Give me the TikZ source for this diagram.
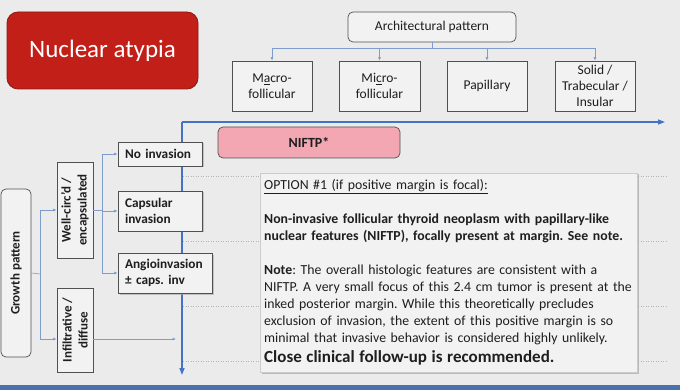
\documentclass[tikz,border=0pt]{standalone}
\usepackage{fontspec}
\setmainfont{Carlito}
\usetikzlibrary{arrows.meta,shadows,calc}
\definecolor{bgc}{HTML}{EBEBEB}
\definecolor{boxfill}{HTML}{F2F2F2}
\definecolor{boxline}{HTML}{505050}
\definecolor{redbox}{HTML}{C21F18}
\definecolor{redline}{HTML}{8E1812}
\definecolor{axisblue}{HTML}{4472C4}
\definecolor{thinblue}{HTML}{7F9CCF}
\definecolor{pinkfill}{HTML}{F2A7B2}
\definecolor{dotgray}{HTML}{B5B5B5}
\definecolor{barblue}{HTML}{4A70AE}
\definecolor{txt}{HTML}{1E1E1E}
\frenchspacing
\begin{document}
\begin{tikzpicture}[x=1pt,y=-1pt,
  plainbox/.style={draw=boxline, fill=boxfill, line width=0.7pt, inner sep=0pt,
    align=center, text=txt, font=\fontsize{13.5}{16}\selectfont},
  roundbox/.style={plainbox, rounded corners=5pt},
  vbox/.style={plainbox, rotate=90, font=\bfseries\fontsize{13}{16}\selectfont},
  leftbox/.style={draw=boxline, fill=boxfill, line width=0.8pt, inner xsep=7pt, inner ysep=0pt,
    text width=#1, align=left, text=txt, font=\bfseries\fontsize{13.3}{16}\selectfont,
    drop shadow={shadow xshift=1.5pt, shadow yshift=-1.5pt, fill=black!35, opacity=0.6}},
  thin/.style={draw=thinblue, line width=0.6pt},
  thinarrow/.style={thin, -{Latex[length=3.5pt,width=3pt]}},
  axis/.style={draw=axisblue, line width=1.3pt, -{Triangle[length=7pt,width=5pt]}},
  dotline/.style={draw=dotgray, line width=0.5pt, dotted}
]
\useasboundingbox (0,0) rectangle (680,390);
\fill[bgc] (0,0) rectangle (680,390);
\fill[barblue] (0,385) rectangle (680,390);

% dotted guide lines
\foreach \yy in {176,241,306,361} \draw[dotline] (183,\yy) -- (667,\yy);

% title
\node[draw=redline, fill=redbox, line width=0.8pt, rounded corners=11pt,
  minimum width=191pt, minimum height=77pt, text=white,
  font=\fontsize{25}{30}\selectfont] (atypia) at (102.5,50.5) {Nuclear atypia};

% architectural pattern
\node[roundbox, minimum width=168pt, minimum height=30pt] (arch) at (432,27) {Architectural pattern};
\node[plainbox, minimum width=80pt, minimum height=50pt] (macro) at (272,86) {M\underline{a}cro-\\follicular};
\node[plainbox, minimum width=81pt, minimum height=50pt] (micro) at (379.5,86) {Mi\underline{c}ro-\\follicular};
\node[plainbox, minimum width=80pt, minimum height=50pt] (pap) at (487,86) {Papillary};
\node[plainbox, minimum width=80pt, minimum height=50pt] (solid) at (595,86) {Solid /\\Trabecular /\\Insular};

\coordinate (archsplit) at (432,48);
\draw[thin] (arch.south) -- (archsplit);
\draw[thin] (archsplit -| macro.north) -- (archsplit -| solid.north);
\foreach \n in {macro,micro,pap,solid}
  \draw[thinarrow] (archsplit -| \n.north) -- (\n.north);

% axes
\coordinate (origin) at (182,122);
\coordinate (axisR) at (665,122);
\coordinate (axisB) at (182,375);
\draw[axis] (origin) -- (axisR);
\draw[axis] (origin) -- (axisB);

% NIFTP
\node[draw=boxline, fill=pinkfill, line width=0.7pt, rounded corners=5pt,
  minimum width=182pt, minimum height=31pt, text=txt,
  font=\bfseries\fontsize{14}{16}\selectfont] (niftp) at (309,142.5) {NIFTP*};

% growth pattern side
\node[roundbox, rotate=90, font=\bfseries\fontsize{13}{16}\selectfont,
  minimum width=168pt, minimum height=30pt] (growth) at (16,273) {Growth pattern};
\node[vbox, minimum width=96pt, minimum height=36pt] (well) at (75,210) {Well-circ'd /\\encapsulated};
\node[vbox, minimum width=84pt, minimum height=36pt] (infil) at (75,330) {Infiltrative /\\diffuse};

\node[leftbox=70pt, minimum height=24pt] (noinv) at (160,154) {No invasion};
\node[leftbox=70pt, minimum height=40pt] (cap) at (160,211) {Capsular\\invasion};
\node[leftbox=80pt, minimum height=40pt] (angio) at (165,273) {Angioinvasion\\± caps. inv};

% connectors (rotated nodes: south = right side, north = left side)
\coordinate (gx) at (40,274);
\coordinate (gbot) at (40,339);
\draw[thin] (growth.south) -- (gx);
\draw[thin] (gx |- well.center) -- (gbot);
\draw[thinarrow] (gx |- well.center) -- (well.north);
\draw[thinarrow] (gbot) -- (gbot -| infil.north);

\coordinate (wx) at (102,210);
\draw[thin] (well.south) -- (wx);
\draw[thin] (wx |- noinv.west) -- (wx |- angio.west);
\draw[thinarrow] (wx |- noinv.west) -- (noinv.west);
\draw[thinarrow] (wx |- cap.west) -- (cap.west);
\draw[thinarrow] (wx |- angio.west) -- (angio.west);

\coordinate (infend) at (176,339);
\draw[thinarrow] (gbot -| infil.south) -- (infend);

% note box
\node[draw=black!20, fill=boxfill, line width=0.5pt, minimum width=377pt, minimum height=199pt,
  drop shadow={shadow xshift=1.5pt, shadow yshift=-1.5pt, fill=black!40, opacity=0.6}]
  (notebox) at (448.5,272.5) {};
\node[anchor=north west, inner sep=0pt, text width=372pt, align=left, text=txt,
  font=\fontsize{13.8}{17}\selectfont] (notetxt) at (264,179)
 {\underline{OPTION \#1 (if positive margin is focal):}\\[17pt]
  \textbf{Non-invasive follicular thyroid neoplasm with papillary-like}\\
  \textbf{nuclear features (NIFTP), focally present at margin. See note.}\\[17pt]
  \textbf{Note}: The overall histologic features are consistent with a\\
  NIFTP. A very small focus of this 2.4 cm tumor is present at the\\
  inked posterior margin. While this theoretically precludes\\
  exclusion of invasion, the extent of this positive margin is so\\
  minimal that invasive behavior is considered highly unlikely.\\[3pt]
  {\bfseries\fontsize{17}{17}\selectfont Close clinical follow-up is recommended.}};
\end{tikzpicture}
\end{document}
